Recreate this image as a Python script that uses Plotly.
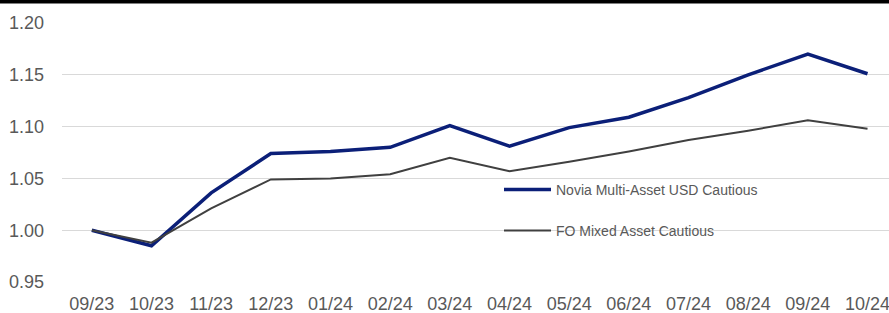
import plotly.graph_objects as go

months = ["09/23", "10/23", "11/23", "12/23", "01/24", "02/24", "03/24",
          "04/24", "05/24", "06/24", "07/24", "08/24", "09/24", "10/24"]
novia = [1.000, 0.985, 1.036, 1.074, 1.076, 1.080, 1.101, 1.081, 1.099,
         1.109, 1.128, 1.150, 1.170, 1.151]
fo_mixed = [1.000, 0.988, 1.021, 1.049, 1.050, 1.054, 1.070, 1.057, 1.066,
            1.076, 1.087, 1.096, 1.106, 1.098]

W, H = 889, 313
ml, mt, mb = 62, 23, 31
ph = H - mt - mb

fig = go.Figure()
fig.add_trace(go.Scatter(x=months, y=novia, mode="lines",
                         name="Novia Multi-Asset USD Cautious",
                         line=dict(color="#0b1f78", width=3.5),
                         legend="legend", showlegend=True))
fig.add_trace(go.Scatter(x=months, y=fo_mixed, mode="lines",
                         name="FO Mixed Asset Cautious",
                         line=dict(color="#404040", width=2),
                         legend="legend2", showlegend=True))

leg_common = dict(bgcolor="rgba(0,0,0,0)", borderwidth=0, visible=True,
                  font=dict(family="Liberation Sans, Arial", size=14, color="#595959"),
                  xanchor="left", yanchor="middle", itemwidth=47)

fig.update_layout(
    width=W, height=H, showlegend=True,
    margin=dict(l=ml, r=0, t=mt, b=mb, pad=0, autoexpand=False),
    paper_bgcolor="white", plot_bgcolor="white",
    font=dict(family="Liberation Sans, Arial", size=18, color="#595959"),
    xaxis=dict(type="category", range=[-0.5, 13.36], showgrid=False,
               showline=False, zeroline=False, ticks="", automargin=False,
               ticklabelstandoff=9,
               tickfont=dict(size=18, color="#595959")),
    yaxis=dict(range=[0.95, 1.20], tickvals=[0.95, 1.00, 1.05, 1.10, 1.15, 1.20],
               tickformat=".2f", showgrid=True, gridcolor="#d9d9d9", gridwidth=1,
               zeroline=False, showline=False, ticks="", ticklabelstandoff=17,
               automargin=False,
               tickfont=dict(size=18, color="#595959")),
    legend=dict(x=(499 - ml) / (W - ml), y=(H - mb - 190) / ph, **leg_common),
    legend2=dict(x=(499 - ml) / (W - ml), y=(H - mb - 231) / ph, **leg_common),
    shapes=[dict(type="rect", xref="paper", yref="paper",
                 x0=-0.1, x1=1.05, y0=(H - mb - 3.5) / ph, y1=(H - mb - 0.01) / ph,
                 fillcolor="black", line=dict(width=0), layer="above")],
)

fig.write_html("out.html", config={"displayModeBar": False},
               post_script="document.body.style.margin='0';document.body.style.overflow='hidden';")
